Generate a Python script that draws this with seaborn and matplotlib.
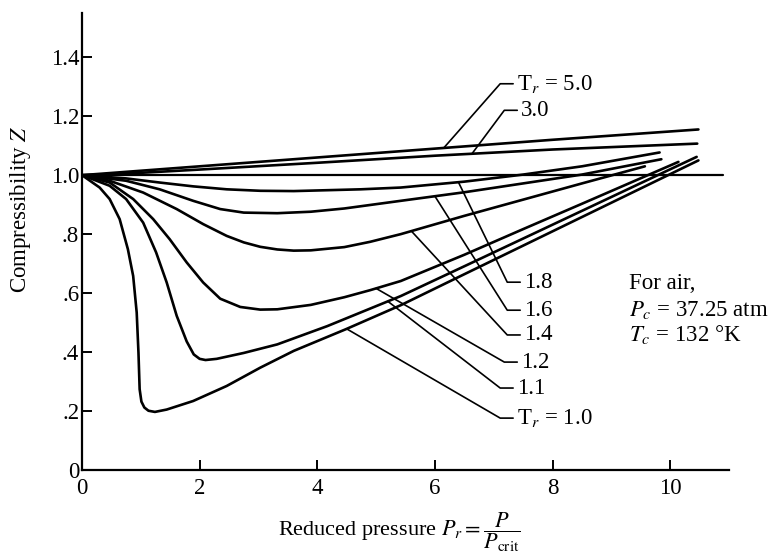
import numpy as np
import pandas as pd
import matplotlib
matplotlib.use("Agg")
import matplotlib.pyplot as plt
import seaborn as sns

# ---------------- data ----------------
tr_labels = ["5.0", "3.0", "1.8", "1.6", "1.4", "1.2", "1.1", "1.0"]

pr_50 = [0.0, 2.0, 4.0, 6.0, 8.0, 10.48]
z_50 = [1.0, 1.03, 1.06, 1.09, 1.12, 1.155]

pr_30 = [0.0, 1.0, 2.0, 4.0, 6.0, 8.0, 10.46]
z_30 = [1.0, 1.008, 1.019, 1.042, 1.066, 1.087, 1.107]

pr_18 = [0.0, 0.75, 1.32, 1.89, 2.46, 3.03, 3.60, 4.17, 4.74, 5.42, 6.5, 7.5, 8.5, 9.82]
z_18 = [1.0, 0.989, 0.975, 0.962, 0.952, 0.947, 0.946, 0.949, 0.952, 0.958, 0.978, 1.002, 1.030, 1.077]

pr_16 = [0.0, 0.75, 1.32, 1.89, 2.35, 2.75, 3.32, 3.89, 4.46, 5.42, 6.5, 7.5, 8.5, 9.85]
z_16 = [1.0, 0.981, 0.952, 0.913, 0.885, 0.873, 0.871, 0.876, 0.887, 0.913, 0.942, 0.972, 1.002, 1.054]

pr_14 = [0.0, 0.47, 1.04, 1.61, 2.06, 2.46, 2.75, 3.03, 3.32, 3.60, 3.89, 4.46, 4.90, 5.42, 6.5, 7.5, 8.5, 9.57]
z_14 = [1.0, 0.981, 0.941, 0.885, 0.834, 0.794, 0.772, 0.757, 0.748, 0.744, 0.745, 0.756, 0.774, 0.800, 0.862, 0.917, 0.972, 1.030]

pr_12 = [0.0, 0.47, 0.87, 1.21, 1.49, 1.78, 2.06, 2.35, 2.69, 3.03, 3.32, 3.89, 4.46, 4.90, 5.42, 6.5, 7.5, 8.5, 10.14]
z_12 = [1.0, 0.975, 0.919, 0.851, 0.783, 0.704, 0.636, 0.581, 0.553, 0.544, 0.545, 0.560, 0.586, 0.610, 0.641, 0.730, 0.817, 0.903, 1.045]

pr_11 = [0.0, 0.47, 0.75, 1.04, 1.26, 1.44, 1.61, 1.78, 1.90, 2.00, 2.10, 2.29, 2.75, 3.32, 4.17, 5.42, 6.5, 7.5, 8.5, 9.5, 10.45]
z_11 = [1.0, 0.964, 0.919, 0.839, 0.738, 0.636, 0.523, 0.436, 0.392, 0.377, 0.373, 0.377, 0.397, 0.426, 0.488, 0.590, 0.691, 0.785, 0.879, 0.973, 1.062]

pr_10 = [0.0, 0.30, 0.47, 0.64, 0.78, 0.87, 0.93, 0.96, 0.98, 1.01, 1.06, 1.13, 1.24, 1.44, 1.89, 2.46, 3.03, 3.60, 4.48, 5.42, 6.5, 7.5, 8.5, 9.5, 10.48]
z_10 = [1.0, 0.958, 0.919, 0.851, 0.749, 0.658, 0.534, 0.398, 0.274, 0.232, 0.212, 0.201, 0.197, 0.205, 0.234, 0.285, 0.347, 0.404, 0.477, 0.559, 0.664, 0.761, 0.858, 0.955, 1.05]

ideal_pr = [0.0, 10.9]
ideal_z = [1.0, 1.0]

curves = {
    "5.0": (pr_50, z_50), "3.0": (pr_30, z_30), "1.8": (pr_18, z_18),
    "1.6": (pr_16, z_16), "1.4": (pr_14, z_14), "1.2": (pr_12, z_12),
    "1.1": (pr_11, z_11), "1.0": (pr_10, z_10),
}

frames = []
for tr in tr_labels:
    p, z = curves[tr]
    frames.append(pd.DataFrame({"Pr": p, "Z": z, "Tr": tr}))
df = pd.concat(frames, ignore_index=True)

# ---------------- style ----------------
sns.set_theme(style="ticks")
plt.rcParams["font.family"] = ["Liberation Serif", "DejaVu Serif"]
plt.rcParams["mathtext.fontset"] = "stix"

FS = 16.5
W, H = 771, 553
fig = plt.figure(figsize=(W / 100, H / 100), dpi=100)
ax = fig.add_axes([82 / W, 1 - 470 / H, (729 - 82) / W, (470 - 13) / H])

LW = 1.9
sns.lineplot(data=df, x="Pr", y="Z", units="Tr", estimator=None, sort=False,
             color="black", linewidth=LW, ax=ax, legend=False)
ax.plot(ideal_pr, ideal_z, color="black", linewidth=1.6)

ax.set_xlim(0, 11)
ax.set_ylim(0, 1.55)
ax.set_xticks([0, 2, 4, 6, 8, 10])
ax.set_xticklabels(["0", "2", "4", "6", "8", "10"])
ax.set_yticks([0, 0.2, 0.4, 0.6, 0.8, 1.0, 1.2, 1.4])
ax.set_yticklabels(["0", ".2", ".4", ".6", ".8", "1.0", "1.2", "1.4"])
ax.tick_params(direction="in", length=7, width=1.4, labelsize=FS, colors="black")
ax.tick_params(axis="y", pad=2)
ax.tick_params(axis="x", pad=6)
for s in ["top", "right"]:
    ax.spines[s].set_visible(False)
for s in ["left", "bottom"]:
    ax.spines[s].set_linewidth(1.6)
    ax.spines[s].set_color("black")

ax.set_ylabel("Compressibility $Z$", fontsize=FS, color="black", va="center")
ax.yaxis.set_label_coords(-0.095, 0.57)
ax.set_xlabel(r"Reduced pressure $P_r=\dfrac{P}{P_{\rm crit}}$", fontsize=FS - 0.5,
              color="black", va="center")
ax.xaxis.set_label_coords(0.49, -0.135)

# ---------------- leader lines and labels ----------------
# (anchor Pr on curve, corner Pr, corner Z, label text)
leaders = [
    ("5.0", 6.15, 7.11, 1.31, "T$_r$ = 5.0"),
    ("3.0", 6.63, 7.18, 1.22, "3.0"),
    ("1.8", 6.40, 7.23, 0.637, "1.8"),
    ("1.6", 6.00, 7.23, 0.542, "1.6"),
    ("1.4", 5.60, 7.23, 0.458, "1.4"),
    ("1.2", 5.00, 7.18, 0.366, "1.2"),
    ("1.1", 5.20, 7.11, 0.278, "1.1"),
    ("1.0", 4.50, 7.11, 0.176, "T$_r$ = 1.0"),
]
for tr, ax_x, cx, cz, txt in leaders:
    p, z = curves[tr]
    az = float(np.interp(ax_x, p, z))
    ax.plot([ax_x, cx, cx + 0.22], [az, cz, cz], color="black", linewidth=1.2)
    ax.text(cx + 0.28, cz, txt, fontsize=FS, va="center", ha="left", color="black")

ax.text(9.30, 0.634, "For air,", fontsize=FS, va="center", ha="left", color="black")
ax.text(9.30, 0.542, "$P_c$ = 37.25 atm", fontsize=FS, va="center", ha="left", color="black")
ax.text(9.30, 0.458, "$T_c$ = 132 °K", fontsize=FS, va="center", ha="left", color="black")

fig.savefig("out.png", dpi=100)
